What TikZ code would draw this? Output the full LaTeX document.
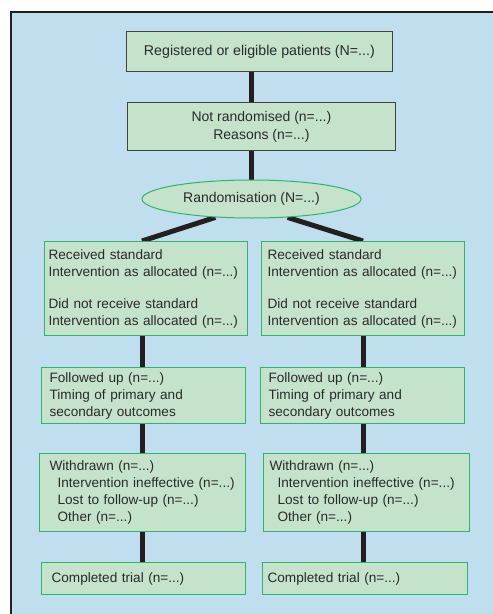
\documentclass[tikz,border=0pt]{standalone}
\usepackage{fontspec}
\setmainfont{Liberation Sans}
\usetikzlibrary{shapes.geometric}
\definecolor{bgblue}{HTML}{BFDEEE}
\definecolor{boxgreen}{HTML}{C5E3CB}
\definecolor{edgegreen}{HTML}{2FB56B}
\definecolor{ink}{HTML}{231F20}
\definecolor{txt}{HTML}{2A2A2A}
\pgfdeclarelayer{background}
\pgfsetlayers{background,main}
\newcommand{\myline}[1]{\mbox{#1}}
\begin{document}
\begin{tikzpicture}[x=1pt,y=-1pt,
  font=\fontsize{13.6}{17}\selectfont, text=txt,
  darkbox/.style={draw=ink!85, line width=0.8pt, fill=boxgreen, inner sep=0pt, align=center, anchor=north west},
  greenbox/.style={draw=edgegreen, line width=1.2pt, fill=boxgreen, anchor=north west, align=left, inner ysep=0pt},
  conn/.style={draw=ink, line width=5pt}]
\useasboundingbox (0,0) rectangle (493,614);

\node[darkbox, minimum width=266pt, minimum height=40pt, font=\fontsize{14.2}{17}\selectfont] (n1) at (126,31) {Registered or eligible patients (N=...)};
\node[darkbox, minimum width=268pt, minimum height=48pt, font=\fontsize{14}{18}\selectfont] (n2) at (127,102) {Not randomised (n=...)\\Reasons (n=...)};
\node[ellipse, draw=edgegreen, line width=1pt, fill=boxgreen, minimum width=219pt, minimum height=38pt, inner sep=0pt, font=\fontsize{14}{17}\selectfont] (ell) at (251.5,199) {Randomisation (N=...)};

\node[greenbox, minimum width=203pt, minimum height=94pt, text width=195pt, inner xsep=4pt] (a1) at (44,241)
  {\myline{Received standard}\\\myline{Intervention as allocated (n=...)}\\[15pt]\myline{Did not receive standard}\\\myline{Intervention as allocated (n=...)}};
\node[greenbox, minimum width=203pt, minimum height=94pt, text width=191pt, inner xsep=6pt] (a2) at (261,241)
  {\myline{Received standard}\\\myline{Intervention as allocated (n=...)}\\[15pt]\myline{Did not receive standard}\\\myline{Intervention as allocated (n=...)}};

\node[greenbox, minimum width=204pt, minimum height=56pt, text width=188pt, inner xsep=8pt] (b1) at (41,367)
  {\myline{Followed up (n=...)}\\\myline{Timing of primary and}\\\myline{secondary outcomes}};
\node[greenbox, minimum width=204pt, minimum height=56pt, text width=188pt, inner xsep=8pt] (b2) at (260,367)
  {\myline{Followed up (n=...)}\\\myline{Timing of primary and}\\\myline{secondary outcomes}};

\node[greenbox, minimum width=206pt, minimum height=78pt, text width=186pt, inner xsep=10pt] (c1) at (39,453)
  {\myline{Withdrawn (n=...)}\\\myline{\hspace*{8pt}Intervention ineffective (n=...)}\\\myline{\hspace*{8pt}Lost to follow-up (n=...)}\\\myline{\hspace*{8pt}Other (n=...)}};
\node[greenbox, minimum width=206pt, minimum height=78pt, text width=194pt, inner xsep=6pt] (c2) at (263,453)
  {\myline{Withdrawn (n=...)}\\\myline{\hspace*{8pt}Intervention ineffective (n=...)}\\\myline{\hspace*{8pt}Lost to follow-up (n=...)}\\\myline{\hspace*{8pt}Other (n=...)}};

\node[greenbox, minimum width=204pt, minimum height=32pt, text width=184pt, inner xsep=10pt] (d1) at (41,562)
  {\myline{Completed trial (n=...)}};
\node[greenbox, minimum width=205pt, minimum height=32pt, text width=195pt, inner xsep=5pt] (d2) at (262,562)
  {\myline{Completed trial (n=...)}};

\coordinate (cl) at (142,0);
\coordinate (cr) at (363,0);

\begin{pgfonlayer}{background}
  \fill[bgblue] (11,12) rectangle (493,614);
  \draw[ink, line width=2pt] (11,614) -- (11,12) -- (493,12);
  \draw[conn] (n1.south -| ell.north) -- (n2.north -| ell.north);
  \draw[conn] (n2.south -| ell.north) -- (ell.north);
  \draw[conn] (ell.207.5) -- (a1.north -| cl);
  \draw[conn] (ell.333) -- (a2.north -| cr);
  \draw[conn] (a1.south -| cl) -- (b1.north -| cl);
  \draw[conn] (b1.south -| cl) -- (c1.north -| cl);
  \draw[conn] (c1.south -| cl) -- (d1.north -| cl);
  \draw[conn] (a2.south -| cr) -- (b2.north -| cr);
  \draw[conn] (b2.south -| cr) -- (c2.north -| cr);
  \draw[conn] (c2.south -| cr) -- (d2.north -| cr);
\end{pgfonlayer}
\end{tikzpicture}
\end{document}
